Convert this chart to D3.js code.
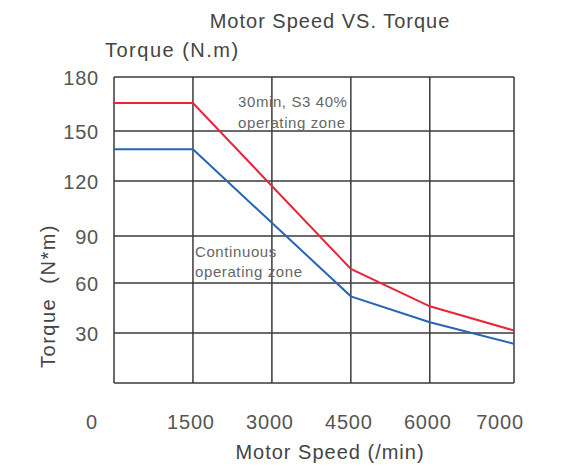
<!DOCTYPE html>
<html><head><meta charset="utf-8">
<script src="https://cdn.jsdelivr.net/npm/d3@7"></script>
<style>
html,body{margin:0;padding:0;background:#fff;}
svg{display:block;font-family:"Liberation Sans",Arial,sans-serif;}
</style></head>
<body>
<svg id="chart" width="564" height="466"></svg>
<script>
// Data
const speedGrid = [0, 1500, 3000, 4500, 6000, 7600];
const speedLabels = ["0", "1500", "3000", "4500", "6000", "7000"];
const torqueGrid = [0, 30, 60, 90, 120, 150, 180];
const torqueLabels = ["30", "60", "90", "120", "150", "180"];
const peakSpeed = [0, 1500, 4500, 6000, 7600];
const peakTorque = [165.5, 165.5, 69, 46, 31.5];
const contSpeed = [0, 1500, 4500, 6000, 7600];
const contTorque = [139, 139, 52, 36.5, 23.5];

const svg = d3.select("#chart");
const x = d3.scaleLinear().domain([0, 7600]).range([114, 514]);
// the source chart's grid is slightly irregular; piecewise linear scale follows it
const y = d3.scaleLinear().domain(torqueGrid).range([383, 333, 283, 236, 181, 131, 77]);
const textCol = "#555";

// grid
svg.append("g").selectAll("line.v").data(speedGrid).join("line")
  .attr("x1", d => x(d)).attr("x2", d => x(d))
  .attr("y1", y(0)).attr("y2", y(180))
  .attr("stroke", "#3a3a3a").attr("stroke-width", 1.5);
svg.append("g").selectAll("line.h").data(torqueGrid).join("line")
  .attr("y1", d => y(d)).attr("y2", d => y(d))
  .attr("x1", x(0)).attr("x2", x(7600))
  .attr("stroke", "#3a3a3a").attr("stroke-width", 1.5);

// y tick labels
svg.append("g").selectAll("text").data(torqueLabels).join("text")
  .attr("x", 99).attr("y", d => y(+d) + 8)
  .attr("text-anchor", "end").attr("font-size", 20).attr("letter-spacing", 0.8)
  .attr("fill", textCol)
  .text(d => d);

// x tick labels
const xOff = {"0": -22, "7000": -14};
svg.append("g").selectAll("text").data(speedLabels).join("text")
  .attr("x", (d, i) => x(speedGrid[i]) + (xOff[d] || -2))
  .attr("y", 429)
  .attr("text-anchor", "middle").attr("font-size", 20).attr("letter-spacing", 0.8)
  .attr("fill", textCol)
  .text(d => d);

// lines
const line = d3.line().x(d => x(d[0])).y(d => y(d[1]));
svg.append("path").datum(peakSpeed.map((s, i) => [s, peakTorque[i]]))
  .attr("d", line).attr("fill", "none").attr("stroke", "#e8253b").attr("stroke-width", 2);
svg.append("path").datum(contSpeed.map((s, i) => [s, contTorque[i]]))
  .attr("d", line).attr("fill", "none").attr("stroke", "#2466b5").attr("stroke-width", 2);

// annotations
const ann = svg.append("g").attr("font-size", 15).attr("letter-spacing", 0.6).attr("fill", "#666");
ann.append("text").attr("x", 238).attr("y", 107).text("30min, S3 40%");
ann.append("text").attr("x", 238).attr("y", 128).text("operating zone");
ann.append("text").attr("x", 195).attr("y", 257).text("Continuous");
ann.append("text").attr("x", 195).attr("y", 277).text("operating zone");

// titles
svg.append("text").attr("x", 330).attr("y", 28).attr("text-anchor", "middle")
  .attr("font-size", 20).attr("letter-spacing", 1).attr("fill", "#444").text("Motor Speed VS. Torque");
svg.append("text").attr("x", 105).attr("y", 57)
  .attr("font-size", 20).attr("letter-spacing", 1.5).attr("fill", "#444").text("Torque (N.m)");
svg.append("text").attr("x", 330).attr("y", 459).attr("text-anchor", "middle")
  .attr("font-size", 20).attr("letter-spacing", 1).attr("fill", "#444").text("Motor Speed (/min)");
svg.append("text").attr("transform", "translate(55,296) rotate(-90)")
  .attr("text-anchor", "middle").attr("font-size", 20).attr("letter-spacing", 1.5).attr("fill", "#444")
  .attr("xml:space", "preserve").text("Torque  (N*m)");
</script>
</body></html>
